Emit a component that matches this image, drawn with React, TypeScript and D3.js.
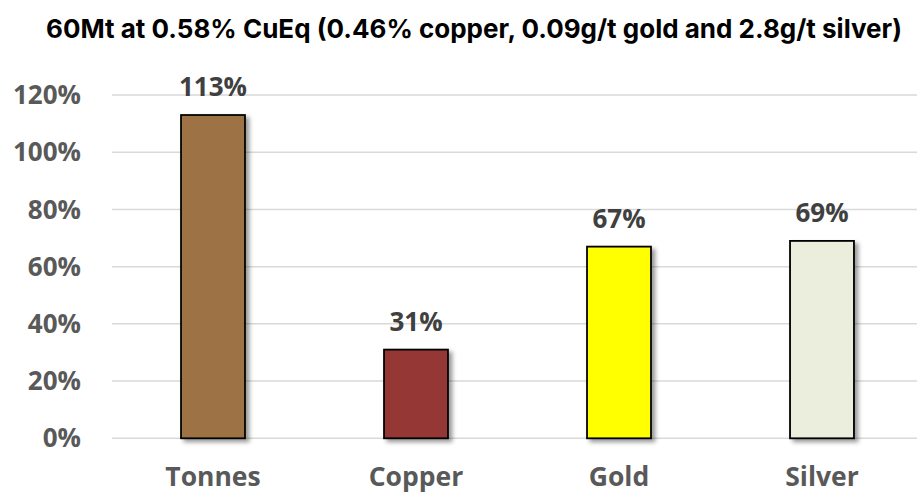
import React from "react";
import * as d3 from "d3";

const categories = ["Tonnes", "Copper", "Gold", "Silver"];
const values = [1.13, 0.31, 0.67, 0.69];
const barColors = ["#9D7244", "#953735", "#FFFF00", "#EBEDDD"];
const yTicks = [0, 0.2, 0.4, 0.6, 0.8, 1.0, 1.2];
const title = "60Mt at 0.58% CuEq (0.46% copper, 0.09g/t gold and 2.8g/t silver)";

const W = 917;
const H = 494;

export default function App() {
  const x = d3
    .scaleBand<string>()
    .domain(categories)
    .range([111.5, 923.5])
    .paddingInner(0.685)
    .paddingOuter(0.3425);
  const y = d3.scaleLinear().domain([0, 1.2]).range([438.3, 95]);
  const fmt = d3.format(".0%");
  const labelFont = "'Open Sans', Lato, sans-serif";

  return (
    <div style={{ position: "absolute", left: 0, top: 0 }}>
      <svg width={W} height={H} style={{ display: "block", background: "#fff" }}>
        <defs>
          <filter id="shadow" x="-30%" y="-10%" width="160%" height="130%">
            <feDropShadow dx="3.5" dy="3" stdDeviation="2.2" floodColor="#000" floodOpacity="0.4" />
          </filter>
        </defs>
        <text
          x={474}
          y={38}
          textAnchor="middle"
          fontFamily="Inter, 'Open Sans', sans-serif"
          fontWeight={700}
          fontSize={26}
          fill="#000"
        >
          {title}
        </text>
        {yTicks.map((t) => (
          <g key={t}>
            <line x1={112} x2={W} y1={y(t)} y2={y(t)} stroke="#D9D9D9" strokeWidth={1.5} />
            <text
              x={81}
              y={y(t)}
              dy="0.35em"
              textAnchor="end"
              fontFamily={labelFont}
              fontWeight={700}
              fontSize={26}
              fill="#595959"
            >
              {fmt(t)}
            </text>
          </g>
        ))}
        {categories.map((c, i) => {
          const x0 = x(c)!;
          const bw = x.bandwidth();
          return (
            <g key={c}>
              <rect
                x={x0}
                y={y(values[i])}
                width={bw}
                height={y(0) - y(values[i])}
                fill={barColors[i]}
                stroke="#000"
                strokeWidth={1.8}
                filter="url(#shadow)"
              />
              <text
                x={x0 + bw / 2}
                y={y(values[i]) - 19}
                textAnchor="middle"
                fontFamily={labelFont}
                fontWeight={700}
                fontSize={26}
                fill="#404040"
              >
                {fmt(values[i])}
              </text>
              <text
                x={x0 + bw / 2}
                y={486}
                textAnchor="middle"
                fontFamily={labelFont}
                fontWeight={700}
                fontSize={26.5}
                fill="#595959"
              >
                {c}
              </text>
            </g>
          );
        })}
      </svg>
    </div>
  );
}
